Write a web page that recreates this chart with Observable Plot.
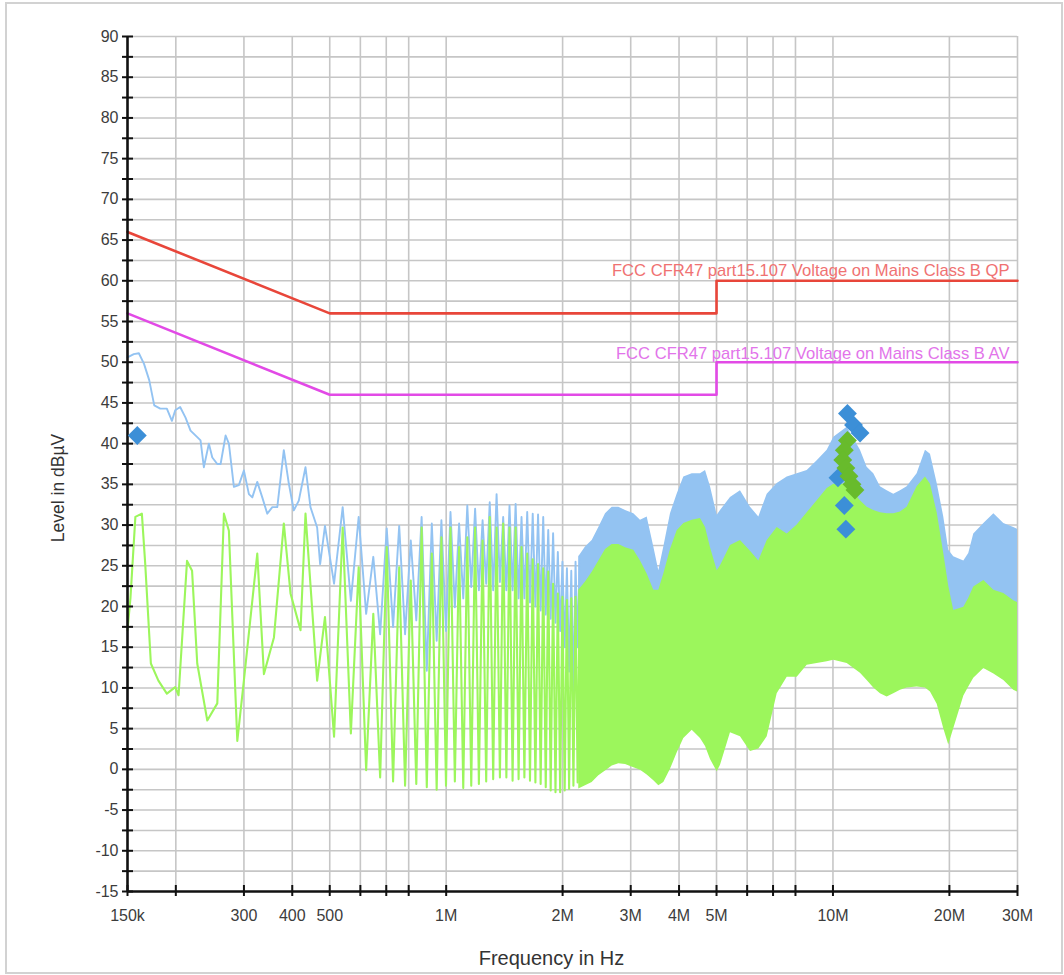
<!DOCTYPE html>
<html><head><meta charset="utf-8">
<script src="https://cdn.jsdelivr.net/npm/d3@7"></script>
<script src="https://cdn.jsdelivr.net/npm/@observablehq/plot@0.6"></script>
<style>
body{margin:0;background:#fff;font-family:"Liberation Sans",Arial,sans-serif;}
#wrap{position:relative;width:1064px;height:975px;overflow:hidden;}
#chart{position:absolute;left:0;top:0;}
#border{position:absolute;left:5px;top:2px;width:1058px;height:972px;border:2px solid #d2d2d2;box-sizing:border-box;pointer-events:none;}
</style></head><body>
<div id="wrap"><div id="chart"></div><div id="border"></div></div>
<script>
// ---------- axis ticks ----------
const xTickFreqs  = [150e3,200e3,300e3,400e3,500e3,600e3,700e3,800e3,1e6,2e6,3e6,4e6,5e6,6e6,7e6,8e6,10e6,20e6,30e6];
const xTickLabels = ["150k","","300","400","500","","","800","1M","2M","3M","4M","5M","6","","8","10M","20M","30M"];
const yTickLabels = [-15,-10,-5,0,5,10,15,20,25,30,35,40,45,50,55,60,65,70,75,80,85,90];
const yMinorTicks = [-15,-12.5,-10,-7.5,-5,-2.5,0,2.5,5,7.5,10,12.5,15,17.5,20,22.5,25,27.5,30,32.5,35,37.5,40,42.5,45,47.5,50,52.5,55,57.5,60,62.5,65,67.5,70,72.5,75,77.5,80,82.5,85,87.5,90];

// ---------- limit lines ----------
const qpF = [150e3, 500e3, 5e6, 5e6, 30e6];
const qpV = [66, 56, 56, 60, 60];
const avF = [150e3, 500e3, 5e6, 5e6, 30e6];
const avV = [56, 46, 46, 50, 50];
const qpLabel = "FCC CFR47 part15.107 Voltage on Mains Class B QP";
const avLabel = "FCC CFR47 part15.107 Voltage on Mains Class B AV";

// ---------- peak trace (blue), low frequencies, kHz ----------
const blueLowF = [150,155.7,160.5,165.5,170.7,175.9,182.3,189.6,195.4,199.3,205.2,211.9,218.3,227.2,231.7,236.3,243.5,248.5,256,261.1,269,274.3,282.6,291.1,299.9,309,315.3,324.8,334.6,344.7,355.2,365.9,380.4,391.9,403.7,415.9,432.8,445.8,463.9,472.2];
const blueLowV = [50.6,51.0,51.1,49.8,47.8,44.7,44.3,44.3,42.8,44.1,44.5,43.2,41.6,40.8,40.4,37.1,40.0,38.3,37.5,37.5,41.0,40.0,34.7,34.9,36.7,33.8,33.4,35.3,33.4,31.4,32.2,32.2,39.2,35.1,31.8,33.0,37.1,32.2,29.7,25.2];

// ---------- average trace (green), low frequencies, kHz ----------
const greenLowF = [150,152.7,157.2,163.4,166.7,172.4,180.3,189.6,199.3,203.3,213.8,220.3,227.2,241.2,256,266.3,274.3,288.4,299.9,324.8,337.9,358.7,380.4,395.9,420.2,432.8,463.9];
const greenLowV = [17.1,21.1,31.0,31.4,25.2,13.0,10.9,9.3,10.1,9.1,25.6,24.4,13.0,6.0,8.1,31.4,29.3,3.5,10.9,26.5,11.7,16.2,30.2,21.6,17.1,31.4,10.9];

// ---------- harmonic spikes 0.48 - 2.2 MHz, kHz ----------
const harmonicF = [486,540,594,648,702,756,810,864,918,972,1026,1080,1134,1188,1242,1296,1350,1404,1458,1512,1566,1620,1674,1728,1782,1836,1890,1944,1998,2052,2106,2160,2214];
const bluePeakV = [29.9,32.2,31.0,26.1,29.6,29.9,28.1,31.0,30.2,30.6,31.6,30.2,32.4,32.0,30.6,32.8,33.8,31.0,32.4,32.6,31.0,31.6,31.4,31.3,31.0,29.4,29.0,26.7,25.5,24.7,24.4,25.5,26.2];
const greenPeakV = [18.7,29.7,24.8,19.1,27.3,24.8,23.2,29.7,26.5,28.5,29.7,27.3,28.5,29.7,28.1,31.0,29.7,30.2,29.7,29.7,27.3,26.5,25.8,25.2,24.7,24.3,22.8,21.6,21.2,20.8,21.0,21.2,22.0];
const troughF = [513,567,621,675,729,783,837,891,945,999,1053,1107,1161,1215,1269,1323,1377,1431,1485,1539,1593,1647,1701,1755,1809,1863,1917,1971,2025,2079,2133,2187];
const blueTroughV = [22.8,20.7,19.1,16.6,17.5,16.6,18.3,12.1,15.8,17.0,19.9,21.0,22.4,22.0,22.8,22.0,23.0,22.0,22.0,21.0,21.0,20.5,20.0,19.5,19.0,18.5,18.0,17.0,15.0,12.0,9.3,15.0];
const greenTroughV = [4.0,4.4,-0.1,-1.0,-1.5,-2.0,-1.8,-2.2,-2.5,-2.0,-1.5,-2.3,-2.0,-1.8,-1.5,-1.2,-1.0,-1.0,-1.4,-1.2,-1.0,-1.4,-1.6,-1.8,-2.2,-2.6,-2.8,-2.8,-2.6,-2.4,-2.0,-1.6];

// ---------- dense band 2.2 - 30 MHz (envelopes), kHz ----------
const denseF = [2202,2292,2385,2481,2582,2687,2795,2909,3056,3180,3309,3442,3546,3653,3801,3955,4115,4326,4545,4683,4824,5021,5120,5433,5766,6120,6431,6761,7175,7616,8082,8577,9104,9662,10049,10884,11778,12257,12750,13268,13809,14361,14945,15551,16503,17345,17870,18598,19341,19924,20525,21796,22443,23123,24554,26060,27651,29334,30000];
const blueTop = [26.1,27.3,28.1,29.7,31.4,32.2,32.2,31.8,31.4,30.6,31.0,27.3,24.4,27.3,31.4,33.8,35.9,36.3,36.3,36.7,34.7,31.2,31.8,33.4,34.2,32.2,31.0,33.8,35.1,35.9,36.3,36.7,37.9,39.2,40.8,42.0,39.2,37.1,36.3,34.7,34.2,33.8,34.2,34.7,36.3,39.2,38.7,35.1,31.0,26.9,26.1,25.6,26.5,28.9,30.2,31.4,30.2,29.7,29.5];
const blueBottom = [18,18,18,18,18,18,18,18,18,18,18,18,18,18,18,18,18,18,18,18,18,18,18,18,18,18,18,18,18,20,20,20,20,20,20,20,20,20,20,20,20,20,20,20,20,20,20,20,18,17,17,18,18,18,18,18,18,18,18];
const greenTop = [22.0,23.0,24.2,25.6,27.0,27.6,27.6,27.2,26.9,25.6,24.0,22.0,22.0,24.0,27.0,29.3,30.2,30.6,30.8,29.7,27.2,24.4,25.0,27.5,28.1,26.8,25.6,28.1,29.7,28.9,30.0,31.5,33.0,34.5,35.0,35.0,33.0,32.2,31.8,31.5,31.4,31.4,31.6,32.2,34.7,35.9,35.0,31.5,26.5,22.5,19.5,19.9,21.0,22.4,23.2,22.0,21.6,20.7,20.5];
const greenBottom = [-2.4,-2.0,-1.6,-0.8,-0.2,0.4,0.7,0.6,0.2,-0.1,-0.7,-1.4,-2.0,-1.6,0.0,2.0,3.8,4.8,3.8,2.8,1.2,-0.3,0.5,4.5,4.0,2.2,2.5,4.0,9.3,11.3,11.3,12.8,13.0,13.2,13.4,13.0,11.8,10.9,10.0,9.3,8.9,9.3,9.7,10.0,10.1,10.0,9.5,8.0,5.0,3.0,5.0,9.0,10.1,11.2,12.4,11.7,10.9,9.7,9.5];

// ---------- final measurement markers ----------
const qpMarkF = [159e3, 10.9e6, 11.3e6, 11.75e6, 10.3e6, 10.7e6, 10.8e6];
const qpMarkV = [41.0, 43.7, 42.3, 41.3, 35.8, 32.4, 29.5];
const avMarkF = [10.9e6, 10.7e6, 10.6e6, 10.8e6, 11.0e6, 11.2e6, 11.4e6];
const avMarkV = [40.4, 39.2, 38.0, 37.0, 36.0, 35.0, 34.3];

// ---------- colours ----------
const cBlue = "#93c3f2", cGreen = "#9cf65c", cQP = "#e8463a", cAV = "#e24ae6";
const cQPText = "#f07272", cAVText = "#e274ea", cMarkBlue = "#3c8fd7", cMarkGreen = "#68bb2c";

// ---------- tables ----------
const pts = (F, V, k = 1e3) => F.map((f, i) => ({f: f * k, v: V[i]}));
function zig(peaks) {
  const out = [];
  harmonicF.forEach((f, i) => {
    out.push({f: f * 1e3, v: peaks[i].p});
    if (i < troughF.length) out.push({f: troughF[i] * 1e3, v: peaks[i].t});
  });
  return out;
}
const blueZig = zig(harmonicF.map((_, i) => ({p: bluePeakV[i], t: blueTroughV[i]})));
const greenZig = zig(harmonicF.map((_, i) => ({p: greenPeakV[i], t: greenTroughV[i]})));
const blueLine = pts(blueLowF, blueLowV).concat(blueZig);
const greenLine = pts(greenLowF, greenLowV).concat(greenZig);
const dense = denseF.map((f, i) => ({f: f * 1e3, bt: blueTop[i], bb: blueBottom[i], gt: greenTop[i], gb: greenBottom[i]}));
const qp = pts(qpF, qpV, 1), av = pts(avF, avV, 1);
const qpMarks = pts(qpMarkF, qpMarkV, 1), avMarks = pts(avMarkF, avMarkV, 1);
const labelMap = new Map(xTickFreqs.map((f, i) => [f, xTickLabels[i]]));
const xGrid = xTickFreqs.slice(1);

const chart = Plot.plot({
  width: 1064, height: 975,
  marginLeft: 127, marginRight: 47, marginTop: 36, marginBottom: 84,
  x: {type: "log", domain: [150e3, 30e6]},
  y: {domain: [-15, 90]},
  style: {fontFamily: "'Liberation Sans', Arial, sans-serif", fontSize: "16px", color: "#3c3c3c", background: "transparent"},
  marks: [
    Plot.ruleX(xGrid, {stroke: "#c6c6c6", strokeWidth: 1.6}),
    Plot.ruleY(yMinorTicks.slice(1), {stroke: "#c6c6c6", strokeWidth: 1.6}),
    Plot.areaY(dense, {x: "f", y1: "bb", y2: "bt", fill: cBlue, curve: "linear"}),
    Plot.line(blueLine, {x: "f", y: "v", stroke: cBlue, strokeWidth: 1.9}),
    Plot.line(greenLine, {x: "f", y: "v", stroke: cGreen, strokeWidth: 2.1}),
    Plot.areaY(dense, {x: "f", y1: "gb", y2: "gt", fill: cGreen, curve: "linear"}),
    Plot.line(qp, {x: "f", y: "v", stroke: cQP, strokeWidth: 2.6}),
    Plot.line(av, {x: "f", y: "v", stroke: cAV, strokeWidth: 2.6}),
    Plot.text([qpLabel], {x: 30e6, y: 60, textAnchor: "end", dx: -8, dy: -10, fill: cQPText, fontSize: 16.6}),
    Plot.text([avLabel], {x: 30e6, y: 50, textAnchor: "end", dx: -8, dy: -9, fill: cAVText, fontSize: 16.6}),
    Plot.ruleX([150e3], {stroke: "#111", strokeWidth: 2.6}),
    Plot.ruleY([-15], {stroke: "#111", strokeWidth: 2.6}),
    Plot.ruleY(yMinorTicks, {stroke: "#111", strokeWidth: 2, insetRight: 884}),
    Plot.ruleX(xTickFreqs, {stroke: "#111", strokeWidth: 2, insetTop: 849}),
    Plot.axisY(yMinorTicks, {tickSize: 5, tickPadding: 4, strokeWidth: 2, stroke: "#111", fill: "#3c3c3c", tickFormat: d => (Number.isInteger(d) && d % 5 === 0) ? String(d) : "", label: null}),
    Plot.axisX(xTickFreqs, {tickSize: 5, tickPadding: 13, strokeWidth: 2, stroke: "#111", fill: "#3c3c3c", tickFormat: d => labelMap.get(d), label: null}),
    Plot.text(["Frequency in Hz"], {frameAnchor: "bottom", textAnchor: "middle", lineAnchor: "middle", dx: -21, dy: 67, fontSize: 20, fill: "#333"}),
    Plot.text(["Level in dBµV"], {frameAnchor: "left", textAnchor: "middle", lineAnchor: "middle", dx: -69, dy: 24, rotate: -90, fontSize: 17.5, fill: "#333"}),
    Plot.dot(qpMarks, {x: "f", y: "v", symbol: "diamond2", r: 8.5, fill: cMarkBlue}),
    Plot.dot(avMarks, {x: "f", y: "v", symbol: "diamond2", r: 8.5, fill: cMarkGreen})
  ]
});
document.getElementById("chart").appendChild(chart);
</script>
</body></html>
